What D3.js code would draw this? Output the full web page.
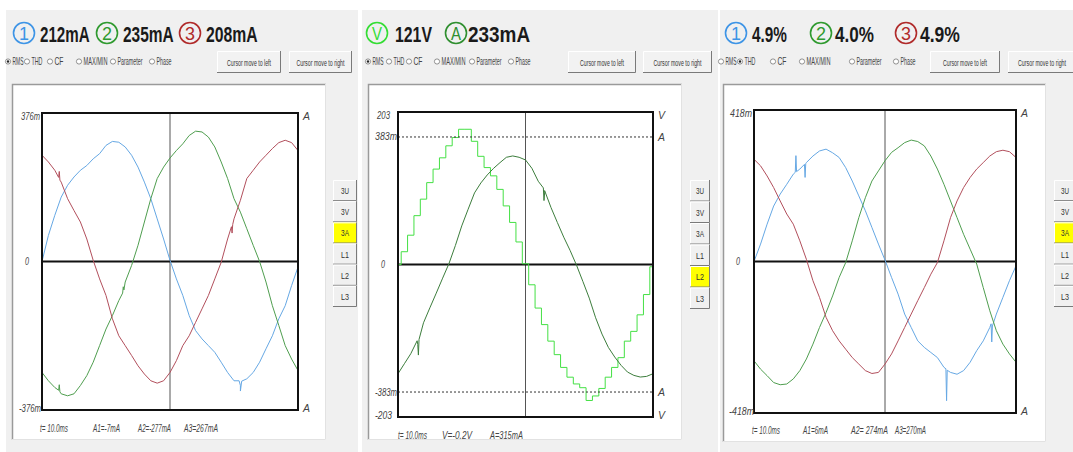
<!DOCTYPE html>
<html>
<head>
<meta charset="utf-8">
<script src="https://cdn.jsdelivr.net/npm/d3@7"></script>
<style>
  body { margin: 0; background: #fff; }
  svg text { font-family: "Liberation Sans Narrow", "Liberation Sans", Arial, sans-serif; }
</style>
</head>
<body>
<svg id="chart" width="1073" height="452"></svg>
<script>
// sample times, ms
const timesMs = [0,0.5,1,1.5,2,2.5,3,3.5,4,4.5,5,5.5,6,6.5,7,7.5,8,8.5,9,9.5,10,
  10.5,11,11.5,12,12.5,13,13.5,14,14.5,15,15.5,16,16.5,17,17.5,18,18.5,19,19.5,20];

// panel 1 : 3 phase currents, mA
const p1Blue  = [0,66,117,163,193,214,231,243,260,273,294,304,302,290,269,239,201,159,108,57,3,-44,-86,-137,-175,-196,-213,-230,-255,-281,-302,-314,-297,-281,-255,-221,-188,-145,-112,-61,-14];
const p1Green = [-281,-302,-319,-335,-340,-335,-314,-289,-255,-213,-171,-137,-99,-52,-10,41,100,159,210,239,262,281,298,319,330,328,315,290,252,210,159,125,83,41,0,-52,-112,-162,-213,-247,-276];
const p1Red   = [269,252,231,201,159,129,100,57,3,-44,-86,-145,-188,-213,-238,-264,-285,-302,-308,-302,-281,-251,-213,-188,-154,-120,-86,-44,-2,57,108,155,210,231,252,269,286,301,307,301,281];
const p1BlueGlitch  = [[15.4,-302],[15.5,-328],[15.6,-303]];
const p1GreenGlitch = [[1.3,-326],[1.35,-312],[1.4,-330],[6.3,-80],[6.35,-64],[6.4,-72]];
const p1RedGlitch   = [[1.3,213],[1.35,228],[1.4,206],[14.8,88],[14.85,72],[14.9,94]];

// panel 2 : L2 voltage (V) and current (mA)
const p2Volt = [0,17,39,65,87,109,127,142,158,169,180,180,164,144,129,118,100,78,56,30,1,-27,-58,-80,-102,-120,-137,-150,-159,-164,-181,-175,-165,-150,-137,-124,-102,-89,-67,-40,-3];
const p2Amp  = [-328,-298,-268,-229,-175,-130,-86,-41,3,57,116,166,215,245,269,289,306,322,326,322,314,289,250,215,171,126,82,42,-2,-51,-101,-160,-209,-249,-278,-303,-323,-333,-338,-336,-328];
const p2AmpGlitch = [[1.55,-240],[1.6,-272],[1.65,-225],[11.4,230],[11.45,192],[11.5,222]];

// panel 3 : 3 phase currents, mA
const p3Blue  = [0,48,103,153,186,213,241,255,273,291,305,310,300,287,259,222,181,140,94,48,4,-44,-90,-145,-182,-219,-237,-251,-265,-292,-306,-311,-301,-278,-246,-219,-182,-145,-99,-53,-12];
const p3Green = [-274,-297,-315,-334,-340,-338,-324,-301,-269,-228,-182,-141,-95,-44,-3,57,121,176,222,250,278,301,314,328,335,331,319,291,255,213,167,121,75,34,-7,-72,-136,-191,-228,-255,-278];
const p3Red   = [282,264,236,204,167,131,103,57,6,-53,-99,-154,-191,-219,-242,-265,-283,-301,-309,-306,-283,-255,-219,-182,-145,-108,-72,-35,-3,57,121,167,204,232,255,273,291,303,307,303,287];
const p3BlueGlitch = [[3.15,246],[3.2,292],[3.25,248],[3.85,268],[3.9,232],[3.95,270],
  [14.65,-296],[14.7,-384],[14.75,-300],[18.1,-172],[18.15,-222],[18.2,-178]];

// header readings and labels
const p1Header = [['1','212mA'],['2','235mA'],['3','208mA']];
const p2Header = [['V','121V'],['A','233mA']];
const p3Header = [['1','4.9%'],['2','4.0%'],['3','4.9%']];
const p1Cursor = ['t= 10.0ms','A1=-7mA','A2=-277mA','A3=267mA'];
const p2Cursor = ['t= 10.0ms','V=-0.2V','A=315mA'];
const p3Cursor = ['t= 10.0ms','A1=6mA','A2= 274mA','A3=270mA'];
const radioLabels = ['RMS','THD','CF','MAX/MIN','Parameter','Phase'];
const sideLabels = ['3U','3V','3A','L1','L2','L3'];

const colBlue = '#66a8e4', colGreen = '#4f9e4f', colRed = '#b24f5c';
const ringBlue = '#3d94e6', ringGreen = '#2f9a2f', ringRed = '#b02a2a';
const radioW = [11, 11, 9, 24, 25, 15];

const svg = d3.select('#chart');

function series(vals, glitch) {
  let pts = timesMs.map((t, i) => [t, vals[i]]);
  if (glitch) pts = pts.concat(glitch).sort((a, b) => a[0] - b[0]);
  return pts;
}

// text squeezed horizontally to a given width (the screen font is very condensed)
function label(g, x, y, str, size, w, anchor) {
  const t = g.append('text').attr('font-size', size).attr('text-anchor', anchor || 'start').text(str);
  const n = t.node().getComputedTextLength();
  const s = w && n > w ? w / n : 1;
  t.attr('transform', `translate(${x},${y}) scale(${s},1)`);
  return t;
}

function winButton(g, x0, y0, x1, y1, lab, fill, w, fs) {
  g.append('rect').attr('x', x0).attr('y', y0).attr('width', x1 - x0).attr('height', y1 - y0)
    .attr('fill', fill || '#f2f2f2');
  g.append('path').attr('d', `M${x0 + .5},${y1}V${y0 + .5}H${x1}`).attr('stroke', '#fff').attr('fill', 'none');
  g.append('path').attr('d', `M${x0},${y1 - .5}H${x1 - .5}V${y0}`).attr('stroke', '#7a7a7a').attr('fill', 'none');
  label(g, (x0 + x1) / 2, (y0 + y1) / 2 + 3.5, lab, fs || 9.5, w, 'middle').attr('fill', '#333');
}

function drawPanel(p) {
  const g = svg.append('g');

  // window background and sunken frame
  g.append('rect').attr('x', p.bg[0]).attr('y', 10).attr('width', p.bg[1] - p.bg[0]).attr('height', 442)
    .attr('fill', '#f0f0f0');
  const [fx0, fy0, fx1, fy1] = p.frame;
  g.append('rect').attr('x', fx0).attr('y', fy0).attr('width', fx1 - fx0).attr('height', fy1 - fy0).attr('fill', '#fff');
  g.append('path').attr('d', `M${fx0 + .5},${fy1}V${fy0 + .5}H${fx1}`).attr('stroke', '#9a9a9a').attr('stroke-width', 1.5).attr('fill', 'none');
  g.append('path').attr('d', `M${fx0},${fy1 - .5}H${fx1 - .5}V${fy0}`).attr('stroke', '#e2e2e2').attr('fill', 'none');

  // header: circled symbol + reading
  p.header.forEach((h, i) => {
    const cx = p.circles[i];
    g.append('circle').attr('cx', cx).attr('cy', 33).attr('r', 10.5)
      .attr('fill', 'none').attr('stroke', p.rings[i]).attr('stroke-width', 1.6);
    label(g, cx, 40, h[0], 18, 10, 'middle').attr('fill', p.rings[i]);
    label(g, p.texts[i], 42, h[1], 22, p.textW[i]).attr('font-weight', 'bold').attr('fill', '#1a1a1a');
  });

  // radio row
  radioLabels.forEach((lab, i) => {
    const rx = p.radios[i];
    g.append('circle').attr('cx', rx).attr('cy', 61.5).attr('r', 2.6)
      .attr('fill', '#fff').attr('stroke', '#777').attr('stroke-width', .8);
    if (i === p.radioOn) g.append('circle').attr('cx', rx).attr('cy', 61.5).attr('r', 1.2).attr('fill', '#222');
    label(g, rx + 4.5, 65, lab, 10, radioW[i]).attr('fill', '#444');
  });
  winButton(g, p.btnL[0], 51, p.btnL[1], 73, 'Cursor move to left', null, 44);
  winButton(g, p.btnR[0], 51, p.btnR[1], 73, 'Cursor move to right', null, 48);

  // side selector
  const sh = (p.side[3] - p.side[1]) / sideLabels.length;
  sideLabels.forEach((lab, i) => {
    winButton(g, p.side[0], p.side[1] + i * sh, p.side[2], p.side[1] + (i + 1) * sh, lab,
      i === p.sideOn ? '#ffff00' : '#f0f0f0', 8, 9);
  });

  // plot area
  const [bx0, by0, bx1, by1] = p.box;
  const x = d3.scaleLinear().domain([0, 20]).range([bx0, bx1]);
  const clipId = 'clip' + p.id;
  g.append('clipPath').attr('id', clipId).append('rect')
    .attr('x', bx0).attr('y', by0).attr('width', bx1 - bx0).attr('height', by1 - by0);

  const yMain = d3.scaleLinear().domain([-p.range, p.range]).range([by1, by0]);
  // cursor
  g.append('line').attr('x1', x(10)).attr('x2', x(10)).attr('y1', by0).attr('y2', by1)
    .attr('stroke', '#555').attr('stroke-width', 1);
  // zero line
  g.append('line').attr('x1', bx0).attr('x2', bx1).attr('y1', yMain(0)).attr('y2', yMain(0))
    .attr('stroke', '#111').attr('stroke-width', 2);

  const lines = g.append('g').attr('clip-path', `url(#${clipId})`);
  p.traces.forEach(tr => {
    const yS = tr.scale || yMain;
    const gen = d3.line().x(d => x(d[0])).y(d => yS(d[1]));
    if (tr.step) gen.curve(d3.curveStep);
    lines.append('path').datum(series(tr.vals, tr.glitch))
      .attr('d', gen).attr('fill', 'none').attr('stroke', tr.color).attr('stroke-width', tr.w || 1);
  });

  if (p.dashed) {
    p.dashed.forEach(v => {
      g.append('line').attr('x1', bx0).attr('x2', bx1).attr('y1', p.ampScale(v)).attr('y2', p.ampScale(v))
        .attr('stroke', '#333').attr('stroke-dasharray', '2,2');
    });
  }

  g.append('rect').attr('x', bx0).attr('y', by0).attr('width', bx1 - bx0).attr('height', by1 - by0)
    .attr('fill', 'none').attr('stroke', '#111').attr('stroke-width', 2);

  // axis labels: [text, y, right end x, width]
  p.leftLabels.forEach(l => {
    label(g, l[2], l[1] + 3.5, l[0], 10.5, l[3], 'end').attr('font-style', 'italic').attr('fill', '#444');
  });
  p.rightLabels.forEach(l => {
    label(g, bx1 + 5, l[1] + 4, l[0], 11, 7).attr('font-style', 'italic').attr('fill', '#444');
  });
  p.cursor.forEach((c, i) => {
    label(g, p.cursorX[i], p.cursorY, c, 10, p.cursorW[i]).attr('font-style', 'italic').attr('fill', '#444');
  });
}

// panel 1
(function () {
  const box = [42, 113, 298, 410];
  const y = d3.scaleLinear().domain([-376, 376]).range([box[3], box[1]]);
  drawPanel({
    id: 1, bg: [6, 358], frame: [12, 84, 326, 440], box: box, range: 376,
    header: p1Header, circles: [24, 107, 190], texts: [40, 123, 206], textW: [48, 49, 50],
    rings: [ringBlue, ringGreen, ringRed],
    radios: [8, 27, 50, 79, 113, 152], radioOn: 0, btnL: [217, 281], btnR: [289, 352],
    side: [333, 180, 357, 307], sideOn: 2,
    traces: [
      { vals: p1Blue, glitch: p1BlueGlitch, color: colBlue },
      { vals: p1Green, glitch: p1GreenGlitch, color: colGreen },
      { vals: p1Red, glitch: p1RedGlitch, color: colRed }
    ],
    leftLabels: [['376m', box[1] + 3, 40, 19], ['0', y(0), 29, 4], ['-376m', box[3] - 2, 41, 22]],
    rightLabels: [['A', box[1] + 3], ['A', box[3] - 2]],
    cursor: p1Cursor, cursorX: [40, 93, 138, 184], cursorW: [28, 27, 33, 34], cursorY: 432
  });
})();

// panel 2
(function () {
  const box = [398, 112, 653, 417];
  const yV = d3.scaleLinear().domain([-203, 203]).range([box[3], box[1]]);
  const yA = d3.scaleLinear().domain([-458, 458]).range([box[3], box[1]]);
  drawPanel({
    id: 2, bg: [362, 718], frame: [368, 84, 682, 440], box: box, range: 203,
    header: p2Header, circles: [377, 456], texts: [395, 468], textW: [37, 60],
    rings: ['#33dd33', '#2f8f2f'],
    radios: [368, 389, 409, 437, 472, 511], radioOn: 0, btnL: [568, 636], btnR: [643, 712],
    side: [690, 180, 710, 309], sideOn: 4,
    traces: [
      { vals: p2Volt, color: '#44e044', step: true, scale: yV },
      { vals: p2Amp, glitch: p2AmpGlitch, color: '#3c7d3c', scale: yA }
    ],
    dashed: [383, -383], ampScale: yA,
    leftLabels: [['203', box[1] + 3, 390, 13], ['383m', yA(383), 397, 22], ['0', yV(0), 385, 4],
      ['-383m', yA(-383), 397, 22], ['-203', box[3] - 2, 392, 17]],
    rightLabels: [['V', box[1] + 3], ['A', yA(383)], ['A', yA(-383)], ['V', box[3] - 2]],
    cursor: p2Cursor, cursorX: [398, 442, 490], cursorW: [29, 30, 33], cursorY: 439
  });
})();

// panel 3
(function () {
  const box = [754, 110, 1016, 413];
  const y = d3.scaleLinear().domain([-418, 418]).range([box[3], box[1]]);
  drawPanel({
    id: 3, bg: [720, 1073], frame: [723, 84, 1046, 442], box: box, range: 418,
    header: p3Header, circles: [736, 821, 906], texts: [752, 835, 920], textW: [35, 39, 40],
    rings: [ringBlue, ringGreen, ringRed],
    radios: [721, 740, 773, 802, 852, 896], radioOn: 1, btnL: [930, 1000], btnR: [1008, 1076],
    side: [1054, 180, 1076, 307], sideOn: 2,
    traces: [
      { vals: p3Blue, glitch: p3BlueGlitch, color: colBlue },
      { vals: p3Green, color: colGreen },
      { vals: p3Red, color: colRed }
    ],
    leftLabels: [['418m', box[1] + 3, 752, 22], ['0', y(0), 740, 4], ['-418m', box[3] - 2, 754, 25]],
    rightLabels: [['A', box[1] + 3], ['A', box[3] - 2]],
    cursor: p3Cursor, cursorX: [752, 803, 851, 895], cursorW: [28, 25, 37, 31], cursorY: 434
  });
})();
</script>
</body>
</html>
